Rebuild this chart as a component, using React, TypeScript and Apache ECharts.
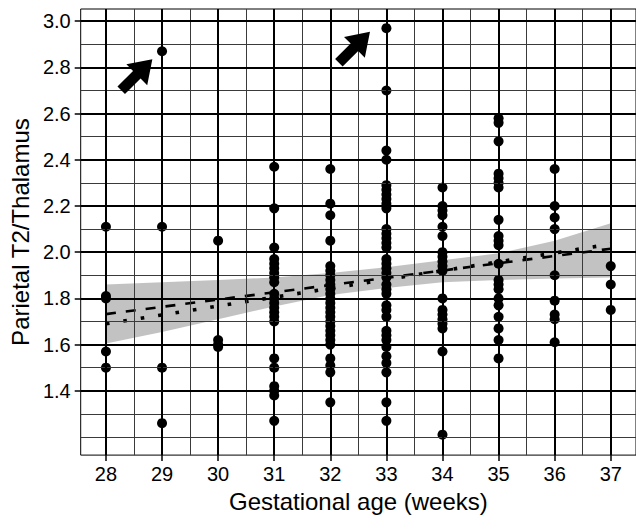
import React, { useEffect, useRef } from "react";
import * as echarts from "echarts";

// ---- data ----
const weeks = [28, 29, 30, 31, 32, 33, 34, 35, 36, 37];
const v28 = [2.11, 1.81, 1.8, 1.57, 1.5];
const v29 = [2.87, 2.11, 1.5, 1.26];
const v30 = [2.05, 1.62, 1.6, 1.59];
const v31 = [2.37, 2.19, 2.02, 1.97, 1.95, 1.93, 1.91, 1.89, 1.87, 1.82, 1.8, 1.78, 1.76, 1.74, 1.72, 1.7, 1.54, 1.5, 1.42, 1.4, 1.38, 1.27];
const v32 = [2.36, 2.21, 2.16, 2.05, 1.94, 1.92, 1.9, 1.88, 1.86, 1.84, 1.82, 1.8, 1.78, 1.76, 1.74, 1.72, 1.7, 1.68, 1.66, 1.64, 1.62, 1.6, 1.54, 1.51, 1.48, 1.35];
const v33 = [2.97, 2.7, 2.44, 2.4, 2.29, 2.27, 2.25, 2.23, 2.21, 2.19, 2.1, 2.08, 2.06, 2.04, 2.02, 1.97, 1.95, 1.93, 1.91, 1.89, 1.86, 1.84, 1.82, 1.77, 1.75, 1.72, 1.66, 1.64, 1.62, 1.59, 1.55, 1.52, 1.48, 1.35, 1.27];
const v34 = [2.28, 2.2, 2.18, 2.16, 2.11, 2.07, 2.0, 1.98, 1.96, 1.94, 1.92, 1.8, 1.75, 1.73, 1.71, 1.69, 1.67, 1.57, 1.21];
const v35 = [2.58, 2.56, 2.48, 2.34, 2.32, 2.3, 2.28, 2.14, 2.07, 2.05, 2.03, 1.95, 1.88, 1.86, 1.84, 1.8, 1.77, 1.72, 1.67, 1.62, 1.54];
const v36 = [2.36, 2.2, 2.15, 2.1, 1.9, 1.79, 1.73, 1.71, 1.61];
const v37 = [1.94, 1.86, 1.75];
const columns = [v28, v29, v30, v31, v32, v33, v34, v35, v36, v37];

// confidence band
const bandX = [28, 29, 30, 31, 32, 33, 34, 35, 36, 37];
const bandUpper = [1.86, 1.87, 1.88, 1.89, 1.91, 1.935, 1.965, 1.995, 2.05, 2.125];
const bandLower = [1.605, 1.655, 1.71, 1.765, 1.815, 1.845, 1.87, 1.88, 1.886, 1.89];

// regression lines (end points)
const dashedLine = [[28, 1.732], [37, 2.015]];
const dottedLine = [[28, 1.69], [37, 2.035]];

// arrows (centre positions)
const arrowPoints = [[28.55, 2.768], [32.43, 2.887]];

// ticks and grid
const xMajor = weeks;
const xMinor = [28.5, 29.5, 30.5, 31.5, 32.5, 33.5, 34.5, 35.5, 36.5];
const yMajor = [1.4, 1.6, 1.8, 2.0, 2.2, 2.4, 2.6, 2.8, 3.0];
const yMinor = [1.2, 1.3, 1.5, 1.7, 1.9, 2.1, 2.3, 2.5, 2.7, 2.9];

const FONT = "'Liberation Sans', Arial, Helvetica, sans-serif";
const ARROW =
  "path://M18,0 L36,22 L24.5,22 L24.5,44 L11.5,44 L11.5,22 L0,22 Z";

export default function App() {
  const ref = useRef<HTMLDivElement>(null);
  useEffect(() => {
    if (!ref.current) return;
    const chart = echarts.init(ref.current, undefined, { renderer: "svg" });

    const points: number[][] = [];
    columns.forEach((col, i) => col.forEach((v) => points.push([weeks[i], v])));

    const majorStyle = { color: "#000", width: 2, type: "solid" as const };
    const minorStyle = { color: "#3a3a3a", width: 1, type: "solid" as const };
    const gridLines = [
      ...xMinor.map((x) => ({ xAxis: x, lineStyle: minorStyle })),
      ...yMinor.map((y) => ({ yAxis: y, lineStyle: minorStyle })),
      ...xMajor.map((x) => ({ xAxis: x, lineStyle: majorStyle })),
      ...yMajor.map((y) => ({ yAxis: y, lineStyle: majorStyle })),
    ];

    chart.setOption({
      animation: false,
      textStyle: { fontFamily: FONT },
      grid: {
        left: 80.5,
        top: 9,
        width: 560.5,
        height: 450,
        show: true,
        borderColor: "#000",
        borderWidth: 1,
        backgroundColor: "transparent",
        containLabel: false,
      },
      xAxis: {
        type: "value",
        min: 27.55,
        max: 37.45,
        name: "Gestational age (weeks)",
        nameLocation: "middle",
        nameGap: 31,
        nameTextStyle: { fontSize: 24, color: "#000", fontFamily: FONT },
        axisLine: { show: false },
        splitLine: { show: false },
        axisTick: {
          show: true,
          customValues: xMajor,
          length: 6,
          lineStyle: { color: "#000", width: 1.5 },
        },
        axisLabel: {
          customValues: xMajor,
          fontSize: 20,
          color: "#000",
          margin: 9,
          fontFamily: FONT,
        },
      },
      yAxis: {
        type: "value",
        min: 1.1216,
        max: 3.0528,
        name: "Parietal T2/Thalamus",
        nameLocation: "middle",
        nameGap: 48,
        nameTextStyle: { fontSize: 24, color: "#000", fontFamily: FONT },
        axisLine: { show: false },
        splitLine: { show: false },
        axisTick: {
          show: true,
          customValues: yMajor,
          length: 6,
          lineStyle: { color: "#000", width: 1.5 },
        },
        axisLabel: {
          customValues: yMajor,
          fontSize: 20,
          color: "#000",
          margin: 10,
          fontFamily: FONT,
          formatter: (v: number) => v.toFixed(1),
        },
      },
      series: [
        {
          type: "scatter",
          name: "grid",
          data: [],
          silent: true,
          z: 1,
          markLine: {
            silent: true,
            symbol: ["none", "none"],
            label: { show: false },
            emphasis: { disabled: true },
            data: gridLines,
          },
        },
        {
          type: "custom",
          name: "band",
          silent: true,
          z: 2,
          data: [[bandX[0], bandLower[0]]],
          renderItem: (params: any, api: any) => {
            const pts: number[][] = [];
            bandX.forEach((x, i) => pts.push(api.coord([x, bandUpper[i]])));
            for (let i = bandX.length - 1; i >= 0; i--)
              pts.push(api.coord([bandX[i], bandLower[i]]));
            return {
              type: "polygon",
              shape: { points: pts },
              style: { fill: "rgba(170,170,170,0.72)" },
            };
          },
        },
        {
          type: "line",
          name: "dashed",
          data: dashedLine,
          symbol: "none",
          z: 3,
          silent: true,
          lineStyle: { color: "#000", width: 2.6, type: [10, 10] },
        },
        {
          type: "line",
          name: "dotted",
          data: dottedLine,
          symbol: "none",
          z: 3,
          silent: true,
          lineStyle: { color: "#000", width: 3.6, type: [3.6, 14] },
        },
        {
          type: "scatter",
          name: "points",
          data: points,
          symbolSize: 10,
          z: 4,
          itemStyle: { color: "#000", opacity: 1 },
        },
        {
          type: "scatter",
          name: "arrows",
          data: arrowPoints,
          symbol: ARROW,
          symbolSize: [36, 44],
          symbolKeepAspect: true,
          symbolRotate: -45,
          z: 5,
          silent: true,
          itemStyle: { color: "#000", opacity: 1 },
        },
      ],
    });
    return () => chart.dispose();
  }, []);
  return (
    <div
      ref={ref}
      style={{ position: "fixed", left: 0, top: 0, width: 636, height: 518, background: "#fff" }}
    />
  );
}
